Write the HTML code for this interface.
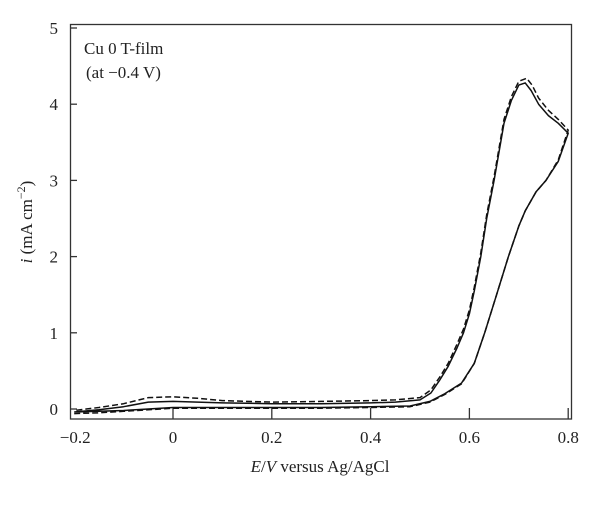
<!DOCTYPE html>
<html><head><meta charset="utf-8"><style>
html,body{margin:0;padding:0;background:#fff;}
svg text{font-family:"Liberation Serif",serif;fill:#222;}
</style></head><body>
<svg id="chart" width="600" height="501" viewBox="0 0 600 501" xmlns="http://www.w3.org/2000/svg">
<rect x="70.5" y="24.5" width="501" height="394.5" fill="none" stroke="#333" stroke-width="1.3"/>
<g id="axes"></g>
<g id="series"></g>
<text x="84" y="54" font-size="17">Cu 0 T-film</text>
<text x="86" y="78" font-size="17">(at −0.4 V)</text>
<text x="320" y="472" font-size="17" text-anchor="middle"><tspan font-style="italic">E</tspan>/<tspan font-style="italic">V</tspan> versus Ag/AgCl</text>
<text transform="translate(32,222) rotate(-90)" font-size="17" text-anchor="middle"><tspan font-style="italic">i</tspan> (mA cm<tspan dy="-7" font-size="12">−2</tspan><tspan dy="7">)</tspan></text>
</svg>
<script>
const xTicks=[-0.2,0,0.2,0.4,0.6,0.8];
const xTickLabels=["−0.2","0","0.2","0.4","0.6","0.8"];
const yTicks=[0,1,2,3,4,5];
const yTickLabels=["0","1","2","3","4","5"];
// solid curve: forward (anodic) then return
const solidE=[-0.2,-0.15,-0.1,-0.05,0,0.1,0.2,0.3,0.4,0.48,0.52,0.55,0.584,0.61,0.631,0.655,0.679,0.7,0.713,0.735,0.755,0.78,0.8,0.78,0.76,0.74,0.725,0.713,0.7,0.685,0.67,0.65,0.635,0.623,0.61,0.6,0.588,0.575,0.557,0.54,0.522,0.5,0.45,0.4,0.3,0.2,0.1,0.05,0,-0.05,-0.1,-0.15,-0.2];
const solidI=[-0.04,-0.03,-0.02,0,0.02,0.02,0.02,0.02,0.03,0.04,0.1,0.2,0.34,0.6,1.0,1.5,2.0,2.4,2.6,2.85,3.0,3.25,3.62,3.75,3.85,4.0,4.18,4.28,4.25,4.05,3.75,3.0,2.5,2.0,1.55,1.25,1.0,0.8,0.56,0.38,0.21,0.12,0.09,0.08,0.07,0.07,0.08,0.09,0.1,0.09,0.03,-0.01,-0.04];
const dashE=[-0.2,-0.15,-0.1,-0.05,0,0.1,0.2,0.3,0.4,0.48,0.52,0.55,0.584,0.61,0.631,0.655,0.679,0.7,0.713,0.735,0.755,0.78,0.8,0.78,0.76,0.74,0.727,0.716,0.7,0.685,0.67,0.65,0.635,0.623,0.61,0.6,0.588,0.575,0.557,0.54,0.522,0.5,0.45,0.4,0.3,0.2,0.1,0.05,0,-0.05,-0.1,-0.15,-0.2];
const dashI=[-0.06,-0.05,-0.03,-0.01,0.01,0.01,0.01,0.01,0.02,0.03,0.09,0.19,0.33,0.6,1.0,1.5,2.0,2.4,2.6,2.85,3.0,3.27,3.66,3.8,3.92,4.08,4.25,4.34,4.3,4.1,3.8,3.05,2.55,2.05,1.6,1.3,1.05,0.85,0.6,0.42,0.25,0.15,0.12,0.11,0.1,0.09,0.11,0.14,0.16,0.15,0.07,0.02,-0.02];
const X=v=>173+v*494;
const Y=v=>409-v*76.2;
const NS="http://www.w3.org/2000/svg";
const axes=document.getElementById('axes');
xTicks.forEach((t,k)=>{
  if(t>-0.2){
    const l=document.createElementNS(NS,'line');
    
    
    l.setAttribute('x1',X(t));l.setAttribute('x2',X(t));l.setAttribute('y1',419);l.setAttribute('y2',408);
    l.setAttribute('stroke','#333');l.setAttribute('stroke-width','1.3');axes.appendChild(l);
  }
  const tx=document.createElementNS(NS,'text');
  
  
  tx.setAttribute('x',X(t)+(t===-0.2?1:0));tx.setAttribute('y',443);tx.setAttribute('font-size','17');tx.setAttribute('text-anchor','middle');
  tx.textContent=xTickLabels[k];axes.appendChild(tx);
});
yTicks.forEach((t,k)=>{
  const l=document.createElementNS(NS,'line');
  
  
  l.setAttribute('x1',70.5);l.setAttribute('x2',77);l.setAttribute('y1',Y(t));l.setAttribute('y2',Y(t));
  l.setAttribute('stroke','#333');l.setAttribute('stroke-width','1.3');axes.appendChild(l);
  const tx=document.createElementNS(NS,'text');
  
  
  tx.setAttribute('x',58);tx.setAttribute('y',Y(t)+6);tx.setAttribute('font-size','17');tx.setAttribute('text-anchor','end');
  tx.textContent=yTickLabels[k];axes.appendChild(tx);
});
const series=document.getElementById('series');
function draw(E,I,dash,name){
  const p=document.createElementNS(NS,'polyline');
  
  
  p.setAttribute('points',E.map((e,k)=>X(e).toFixed(1)+','+Y(I[k]).toFixed(1)).join(' '));
  p.setAttribute('fill','none');p.setAttribute('stroke','#111');p.setAttribute('stroke-width','1.5');
  p.setAttribute('stroke-linejoin','round');
  if(dash)p.setAttribute('stroke-dasharray','6,3');
  series.appendChild(p);
}
draw(dashE,dashI,true,'dashed-cv-curve');
draw(solidE,solidI,false,'solid-cv-curve');
</script>
</body></html>
